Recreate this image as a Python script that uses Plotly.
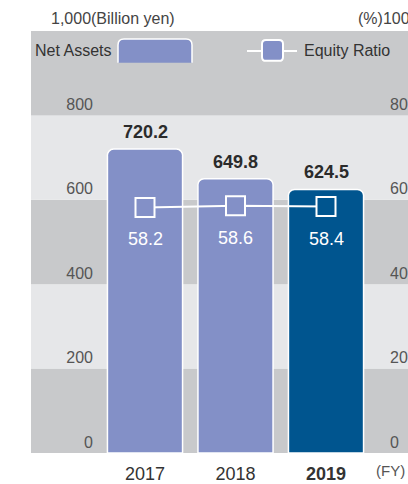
import plotly.graph_objects as go

years = ["2017", "2018", "2019"]
year_labels = ["2017", "2018", "<b>2019</b>"]
net_assets = [720.2, 649.8, 624.5]
equity_ratio = [58.2, 58.6, 58.4]
bar_colors = ["#8390c7", "#8390c7", "#00558f"]
left_ticks = [0, 200, 400, 600, 800]
right_ticks = [0, 20, 40, 60, 80]
bands = [(0, 200, "#c8c9cb"), (200, 400, "#e6e7e9"), (400, 600, "#c8c9cb"),
         (600, 800, "#e6e7e9"), (800, 1000, "#c8c9cb")]

W, H = 408, 484
P_LEFT, P_TOP, P_BOTTOM, P_RIGHT = 31, 31, 455, 408  # pixels of plot area
ML, MT = P_LEFT, P_TOP
MB = H - P_BOTTOM
MR = W - P_RIGHT
PW = W - ML - MR
PH = H - MT - MB
FONT = "Liberation Sans, Arial, Helvetica, sans-serif"

xs = list(range(len(years)))
unit = 90.5
c0 = 145 - P_LEFT
xmin = -c0 / unit
xmax = (PW - c0) / unit


def px_x(p):
    return (p - P_LEFT) / PW


def px_y(p):
    return 1 - (p - P_TOP) / PH


fig = go.Figure()
fig.add_trace(go.Bar(
    x=xs, y=net_assets, width=0.83,
    marker=dict(color=bar_colors, line=dict(color="white", width=1.5), cornerradius=7),
    hoverinfo="skip", showlegend=False,
))
fig.add_trace(go.Scatter(
    x=xs, y=equity_ratio, yaxis="y2", mode="lines+markers",
    line=dict(color="white", width=2),
    marker=dict(symbol="square", size=19, color=bar_colors, line=dict(color="white", width=2)),
    hoverinfo="skip", showlegend=False,
))

shapes = []
for lo, hi, col in bands:
    shapes.append(dict(type="rect", xref="paper", yref="y", x0=0, x1=1, y0=lo, y1=hi,
                       fillcolor=col, line=dict(width=0), layer="below"))


def rounded_top_path(xa, xb, ytop, ybot, r):
    X, Y = px_x, px_y
    return (f"M {X(xa)},{Y(ybot)} L {X(xa)},{Y(ytop + r)} "
            f"Q {X(xa)},{Y(ytop)} {X(xa + r)},{Y(ytop)} "
            f"L {X(xb - r)},{Y(ytop)} Q {X(xb)},{Y(ytop)} {X(xb)},{Y(ytop + r)} "
            f"L {X(xb)},{Y(ybot)}")


def rounded_rect_path(xa, xb, ytop, ybot, r):
    X, Y = px_x, px_y
    return (f"M {X(xa + r)},{Y(ytop)} L {X(xb - r)},{Y(ytop)} "
            f"Q {X(xb)},{Y(ytop)} {X(xb)},{Y(ytop + r)} L {X(xb)},{Y(ybot - r)} "
            f"Q {X(xb)},{Y(ybot)} {X(xb - r)},{Y(ybot)} L {X(xa + r)},{Y(ybot)} "
            f"Q {X(xa)},{Y(ybot)} {X(xa)},{Y(ybot - r)} L {X(xa)},{Y(ytop + r)} "
            f"Q {X(xa)},{Y(ytop)} {X(xa + r)},{Y(ytop)} Z")


# legend swatch
shapes.append(dict(type="path", xref="paper", yref="paper",
                   path=rounded_top_path(118, 192, 39, 63, 6),
                   fillcolor="#8390c7", line=dict(color="white", width=1.5), layer="above"))
# legend line + marker
shapes.append(dict(type="line", xref="paper", yref="paper", x0=px_x(247), x1=px_x(297),
                   y0=px_y(51), y1=px_y(51), line=dict(color="white", width=2)))
shapes.append(dict(type="path", xref="paper", yref="paper",
                   path=rounded_rect_path(262, 283, 40, 61, 4), fillcolor="#8390c7",
                   line=dict(color="white", width=2)))

annotations = []
for i, v in enumerate(net_assets):
    annotations.append(dict(x=xs[i], y=v, xref="x", yref="y", text=f"<b>{v:.1f}</b>",
                            showarrow=False, yshift=17,
                            font=dict(size=18, color="#2b2b2b", family=FONT)))
for i, v in enumerate(equity_ratio):
    annotations.append(dict(x=xs[i], y=v, xref="x", yref="y2", text=f"{v:.1f}",
                            showarrow=False, yshift=-32,
                            font=dict(size=18, color="white", family=FONT)))
annotations += [
    dict(x=px_x(49), y=px_y(18), xref="paper", yref="paper", text="1,000(Billion yen)",
         xanchor="left", yanchor="middle", showarrow=False,
         font=dict(size=16, color="#444", family=FONT)),
    dict(x=px_x(356), y=px_y(18), xref="paper", yref="paper", text="(%)100",
         xanchor="left", yanchor="middle", showarrow=False,
         font=dict(size=16, color="#444", family=FONT)),
    dict(x=px_x(33), y=px_y(51), xref="paper", yref="paper", text="Net Assets",
         xanchor="left", yanchor="middle", showarrow=False,
         font=dict(size=16, color="#333", family=FONT)),
    dict(x=px_x(302), y=px_y(51), xref="paper", yref="paper", text="Equity Ratio",
         xanchor="left", yanchor="middle", showarrow=False,
         font=dict(size=16, color="#333", family=FONT)),
    dict(x=px_x(407), y=px_y(473), xref="paper", yref="paper", text="(FY)",
         xanchor="right", yanchor="middle", showarrow=False,
         font=dict(size=15, color="#555", family=FONT)),
]

fig.update_layout(
    width=W, height=H,
    margin=dict(l=ML, r=MR, t=MT, b=MB, pad=0),
    paper_bgcolor="white", plot_bgcolor="rgba(0,0,0,0)",
    shapes=shapes, annotations=annotations,
    xaxis=dict(range=[xmin, xmax], tickvals=xs, ticktext=year_labels,
               showgrid=False, zeroline=False, showline=False, ticks="",
               ticklabelstandoff=8,
               tickfont=dict(size=18, color="#333", family=FONT), fixedrange=True),
    yaxis=dict(range=[0, 1000], tickvals=left_ticks, showgrid=False, zeroline=False,
               showline=False, ticks="", anchor="free", position=px_x(93),
               ticklabelshift=-11, tickfont=dict(size=16, color="#555", family=FONT)),
    yaxis2=dict(range=[0, 100], tickvals=right_ticks, overlaying="y", side="right",
                showgrid=False, zeroline=False, showline=False, ticks="",
                anchor="free", position=px_x(389), ticklabelshift=-11,
                tickfont=dict(size=16, color="#555", family=FONT)),
    bargap=0,
)

fig.write_html(
    "out.html",
    config={"displayModeBar": False, "staticPlot": True},
    post_script="document.body.style.margin='0';document.body.style.overflow='hidden';",
)
